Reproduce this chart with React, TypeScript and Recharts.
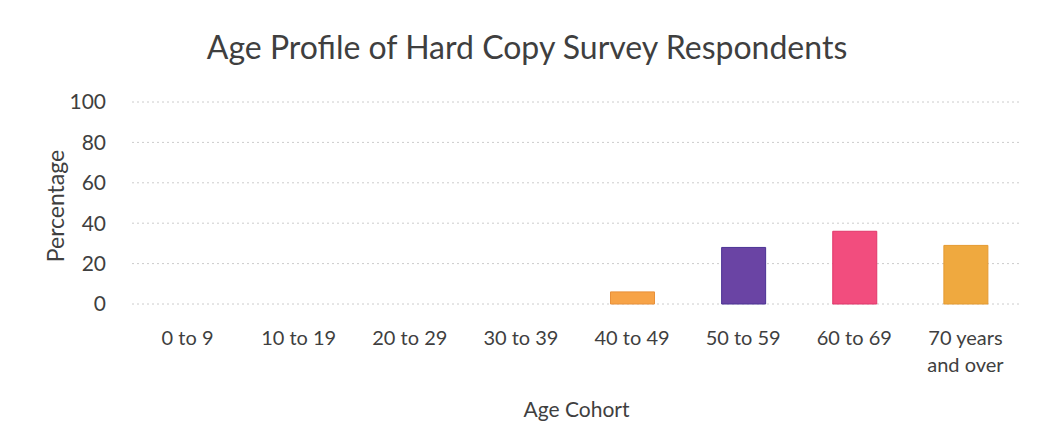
import { BarChart, Bar, XAxis, YAxis, CartesianGrid, Cell, Text } from 'recharts';

const cohorts = ['0 to 9', '10 to 19', '20 to 29', '30 to 39', '40 to 49', '50 to 59', '60 to 69', '70 years and over'];
const percentages = [0, 0, 0, 0, 6, 28, 36, 29];
const barColors = ['#f6a24a', '#f6a24a', '#f6a24a', '#f6a24a', '#f7a347', '#6a44a4', '#f24d7e', '#efa93f'];
const barEdges = ['#e88f35', '#e88f35', '#e88f35', '#e88f35', '#e8903a', '#4b3394', '#e0376a', '#e59a30'];
const yTicks = [0, 20, 40, 60, 80, 100];

const chartData = cohorts.map((cohort, i) => ({ cohort, value: percentages[i] }));

const FONT = 'Lato, "Open Sans", sans-serif';
const TEXT = '#3f3f3f';

function CohortTick(props: any) {
  const { x, y, payload } = props;
  return (
    <Text
      x={x}
      y={y}
      width={80}
      textAnchor="middle"
      verticalAnchor="start"
      lineHeight={27}
      fontSize={20}
      fontFamily={FONT}
      style={{ fontSize: 20, fontFamily: FONT }}
      fill={TEXT}
    >
      {payload.value}
    </Text>
  );
}

export default function App() {
  return (
    <div style={{ position: 'relative', width: 1039, height: 435, margin: -8, background: '#fff' }}>
      <div
        style={{
          position: 'absolute',
          top: 28,
          left: 0,
          width: 1054,
          textAlign: 'center',
          fontFamily: FONT,
          fontSize: 32,
          color: TEXT,
          lineHeight: '38px',
        }}
      >
        Age Profile of Hard Copy Survey Respondents
      </div>
      <BarChart
        width={1039}
        height={435}
        data={chartData}
        margin={{ top: 102, right: 18, bottom: 0, left: 44 }}
        barSize={44}
      >
        <CartesianGrid vertical={false} stroke="#cccccc" strokeDasharray="2 3" />
        <XAxis
          dataKey="cohort"
          axisLine={false}
          tickLine={false}
          height={131}
          tickMargin={21}
          interval={0}
          tick={<CohortTick />}
          label={{
            content: ({ viewBox }: any) => (
              <text
                x={viewBox.x + viewBox.width / 2}
                y={viewBox.y + 113}
                textAnchor="middle"
                fontSize={21}
                fontFamily={FONT}
                fill={TEXT}
              >
                Age Cohort
              </text>
            ),
          }}
        />
        <YAxis
          domain={[0, 100]}
          ticks={yTicks}
          axisLine={false}
          tickLine={false}
          width={88}
          tickMargin={20}
          tick={{ fontSize: 21, fontFamily: FONT, fill: TEXT }}
          label={{
            content: ({ viewBox }: any) => {
              const cx = viewBox.x + 11;
              const cy = viewBox.y + viewBox.height / 2 + 3;
              return (
                <text
                  x={cx}
                  y={cy}
                  transform={`rotate(-90 ${cx} ${cy})`}
                  textAnchor="middle"
                  dominantBaseline="central"
                  fontSize={23}
                  fontFamily={FONT}
                  fill={TEXT}
                >
                  Percentage
                </text>
              );
            },
          }}
        />
        <Bar dataKey="value" isAnimationActive={false}>
          {chartData.map((d, i) => (
            <Cell key={d.cohort} fill={barColors[i]} stroke={barEdges[i]} strokeWidth={1} />
          ))}
        </Bar>
      </BarChart>
    </div>
  );
}
